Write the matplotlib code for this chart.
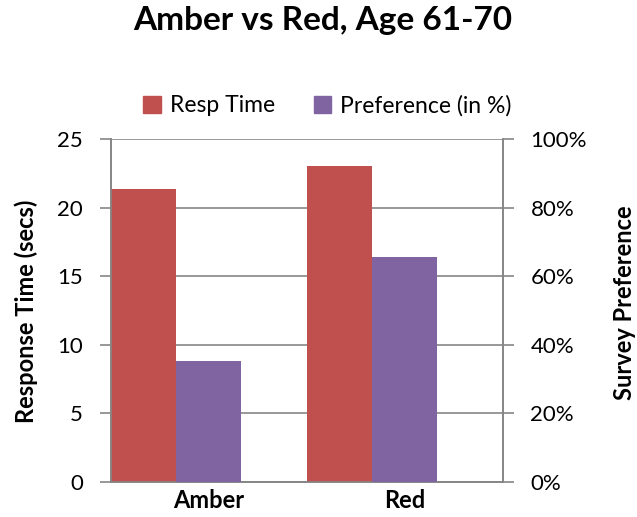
import matplotlib
matplotlib.use("Agg")
import matplotlib.pyplot as plt
from matplotlib.ticker import PercentFormatter
from matplotlib.patches import Patch

categories = ["Amber", "Red"]
resp_time = [21.37, 23.05]
preference = [0.353, 0.656]

RED = "#C0504D"
PURPLE = "#8064A2"
GREY = "#868686"

plt.rcParams["font.family"] = ["Lato", "DejaVu Sans"]


def main():
    fig = plt.figure(figsize=(6.37, 5.17), dpi=100)
    ax = fig.add_axes([0.1738, 0.0677, 0.6154, 0.663])
    ax2 = ax.twinx()

    # each category: response time bar, then preference bar, then a gap
    w = 1 / 3
    pos = list(range(len(categories)))
    ax.bar(pos, resp_time, width=w, align="edge", color=RED, zorder=3)
    ax2.bar([p + w for p in pos], preference, width=w, align="edge", color=PURPLE, zorder=3)

    ax.set_xlim(0, len(categories))
    ax.set_ylim(0, 25)
    ax2.set_ylim(0, 1)
    ax.set_yticks(range(0, 26, 5))
    ax2.set_yticks([0, 0.2, 0.4, 0.6, 0.8, 1.0])
    ax2.yaxis.set_major_formatter(PercentFormatter(1.0, decimals=0))

    ax.set_xticks([p + 0.5 for p in pos])
    ax.set_xticklabels(categories, fontsize=17, fontweight="bold")
    ax.tick_params(axis="x", length=0, pad=5)

    ax.yaxis.grid(True, color=GREY, linewidth=1.2, zorder=0)
    ax.set_axisbelow(True)
    ax.tick_params(axis="y", length=8, width=1.2, color=GREY, labelsize=16, pad=12)
    ax2.tick_params(axis="y", length=8, width=1.2, color=GREY, labelsize=16, pad=12)

    for a in (ax, ax2):
        a.spines["top"].set_visible(False)
        for s in ("left", "right", "bottom"):
            a.spines[s].set_color(GREY)
            a.spines[s].set_linewidth(1.2)

    fig.text(0.0408, 0.398, "Response Time (secs)", rotation=90, ha="center", va="center",
             fontsize=17, fontweight="bold")
    fig.text(0.98, 0.414, "Survey Preference", rotation=90, ha="center", va="center",
             fontsize=17, fontweight="bold")

    fig.text(0.506, 1 - 30 / 517, "Amber vs Red, Age 61-70", ha="center", va="baseline",
             fontsize=24, fontweight="bold")

    handles = [Patch(color=RED, label="Resp Time"), Patch(color=PURPLE, label="Preference (in %)")]
    fig.legend(handles=handles, loc="center", bbox_to_anchor=(0.514, 0.796), ncol=2,
               frameon=False, fontsize=16.5, handlelength=0.75, handleheight=0.75,
               handletextpad=0.4, columnspacing=1.7)

    fig.savefig("out.png", dpi=100)


if __name__ == "__main__":
    main()
